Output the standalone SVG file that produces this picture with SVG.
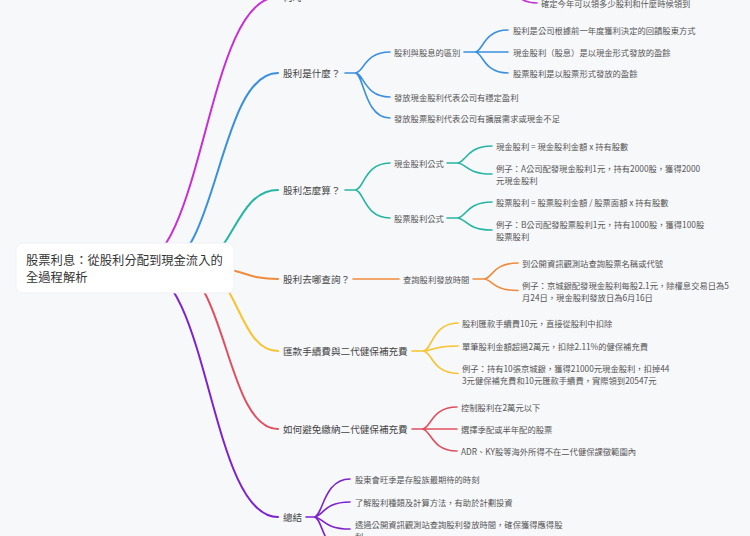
<svg xmlns="http://www.w3.org/2000/svg" width="750" height="536" viewBox="0 0 750 536">
<style>
text{font-family:"Noto Sans CJK TC","Noto Sans CJK SC",sans-serif;dominant-baseline:central}
.root{font-size:12.3px;fill:#333}
.l1{font-size:9.6px;fill:#444}
.l2{font-size:8.3px;fill:#555}
.c{fill:none;stroke-linecap:round}
.w1{stroke-width:2}
.w2{stroke-width:1.6}
.mag{stroke:#c62fd6}
.blue{stroke:#3a8fde}
.teal{stroke:#26b5a3}
.orange{stroke:#f08a3c}
.yellow{stroke:#f9c22e}
.red{stroke:#e04f5f}
.purple{stroke:#7e22ce}
</style>
<rect width="750" height="536" fill="#f7f8fa"/>
<g id="connectors">
<path class="c w1 mag" d="M132 268 C205 268,205 -3,278 -3"/>
<path class="c w1 blue" d="M158 268 C218 268,218 73,278 73"/>
<path class="c w1 teal" d="M188 268 C233 268,233 190,278 190"/>
<path class="c w1 orange" d="M210 268 C244 268,244 279,278 279"/>
<path class="c w1 yellow" d="M198 268 C238 268,238 351,278 351"/>
<path class="c w1 red" d="M174 268 C226 268,226 429,278 429"/>
<path class="c w1 purple" d="M141 268 C209.5 268,209.5 517,278 517"/>
<path class="c w2 mag" d="M500 -25 C509 -25,509 3,537 3"/>
<path class="c w2 blue" d="M345 73 H355 C364 73,364 52,390 52 M355 73 C364 73,364 97,390 97 M355 73 C364 73,364 118,390 118"/>
<path class="c w2 blue" d="M464 52 H475 C483 52,483 30,508 30 M475 52 H508 M475 52 C483 52,483 73,508 73"/>
<path class="c w2 teal" d="M345 190 H355 C364 190,364 163,390 163 M355 190 C364 190,364 218,390 218"/>
<path class="c w2 teal" d="M447 163 H457 C466 163,466 146,492 146 M457 163 C466 163,466 174,492 174"/>
<path class="c w2 teal" d="M447 218 H457 C466 218,466 202,492 202 M457 218 C466 218,466 230,492 230"/>
<path class="c w2 orange" d="M353 279 H399"/>
<path class="c w2 orange" d="M473 279 H484 C492 279,492 263,518 263 M484 279 C492 279,492 290.5,518 290.5"/>
<path class="c w2 yellow" d="M412 351 H423 C432 351,432 323,458 323 M423 351 C432 351,432 346,458 346 M423 351 C432 351,432 373.5,458 373.5"/>
<path class="c w2 red" d="M412 429 H422 C431 429,431 407,457 407 M422 429 H457 M422 429 C431 429,431 451,457 451"/>
<path class="c w2 purple" d="M306 517 H314 C323 517,323 479,350 479 M314 517 C323 517,323 502,350 502 M314 517 C323 517,323 529,350 529 M314 517 C323 517,323 556,350 556"/>
</g>
<g id="root">
<rect x="16" y="243" width="218" height="50" rx="6" fill="#fff" stroke="#eceef2" stroke-width="0.8"/>
<text class="root" x="26" y="260">股票利息：從股利分配到現金流入的</text>
<text class="root" x="26" y="277">全過程解析</text>
</g>
<g id="n-top"><text class="l1" x="283" y="-3">何時</text></g>
<g id="n-top-c"><text class="l2" x="541" y="3">確定今年可以領多少股利和什麼時候領到</text></g>
<g id="n1"><text class="l1" x="283" y="73">股利是什麼？</text></g>
<g id="n1-1"><text class="l2" x="394" y="52">股利與股息的區別</text></g>
<g id="n1-1-1"><text class="l2" x="513" y="30">股利是公司根據前一年度獲利決定的回饋股東方式</text></g>
<g id="n1-1-2"><text class="l2" x="513" y="52">現金股利（股息）是以現金形式發放的盈餘</text></g>
<g id="n1-1-3"><text class="l2" x="513" y="73">股票股利是以股票形式發放的盈餘</text></g>
<g id="n1-2"><text class="l2" x="394" y="97">發放現金股利代表公司有穩定盈利</text></g>
<g id="n1-3"><text class="l2" x="394" y="118">發放股票股利代表公司有擴展需求或現金不足</text></g>
<g id="n2"><text class="l1" x="283" y="190">股利怎麼算？</text></g>
<g id="n2-1"><text class="l2" x="394" y="163">現金股利公式</text></g>
<g id="n2-1-1"><text class="l2" x="496" y="146">現金股利 = 現金股利金額 x 持有股數</text></g>
<g id="n2-1-2"><text class="l2" x="496" y="168">例子：A公司配發現金股利1元，持有2000股，獲得2000</text><text class="l2" x="496" y="180">元現金股利</text></g>
<g id="n2-2"><text class="l2" x="394" y="218">股票股利公式</text></g>
<g id="n2-2-1"><text class="l2" x="496" y="202">股票股利 = 股票股利金額 / 股票面額 x 持有股數</text></g>
<g id="n2-2-2"><text class="l2" x="496" y="224">例子：B公司配發股票股利1元，持有1000股，獲得100股</text><text class="l2" x="496" y="236">股票股利</text></g>
<g id="n3"><text class="l1" x="283" y="279">股利去哪查詢？</text></g>
<g id="n3-1"><text class="l2" x="403" y="279">查詢股利發放時間</text></g>
<g id="n3-1-1"><text class="l2" x="522" y="263">到公開資訊觀測站查詢股票名稱或代號</text></g>
<g id="n3-1-2"><text class="l2" x="522" y="285">例子：京城銀配發現金股利每股2.1元，除權息交易日為5</text><text class="l2" x="522" y="296.5">月24日，現金股利發放日為6月16日</text></g>
<g id="n4"><text class="l1" x="283" y="351">匯款手續費與二代健保補充費</text></g>
<g id="n4-1"><text class="l2" x="462" y="323">股利匯款手續費10元，直接從股利中扣除</text></g>
<g id="n4-2"><text class="l2" x="462" y="346">單筆股利金額超過2萬元，扣除2.11%的健保補充費</text></g>
<g id="n4-3"><text class="l2" x="462" y="368">例子：持有10張京城銀，獲得21000元現金股利，扣掉44</text><text class="l2" x="462" y="379.5">3元健保補充費和10元匯款手續費，實際領到20547元</text></g>
<g id="n5"><text class="l1" x="283" y="429">如何避免繳納二代健保補充費</text></g>
<g id="n5-1"><text class="l2" x="461" y="407">控制股利在2萬元以下</text></g>
<g id="n5-2"><text class="l2" x="461" y="429">選擇季配或半年配的股票</text></g>
<g id="n5-3"><text class="l2" x="461" y="451">ADR、KY股等海外所得不在二代健保課徵範圍內</text></g>
<g id="n6"><text class="l1" x="283" y="517">總結</text></g>
<g id="n6-1"><text class="l2" x="355" y="479">股東會旺季是存股族最期待的時刻</text></g>
<g id="n6-2"><text class="l2" x="355" y="502">了解股利種類及計算方法，有助於計劃投資</text></g>
<g id="n6-3"><text class="l2" x="355" y="524">透過公開資訊觀測站查詢股利發放時間，確保獲得應得股</text><text class="l2" x="355" y="535.5">利</text></g>
</svg>
